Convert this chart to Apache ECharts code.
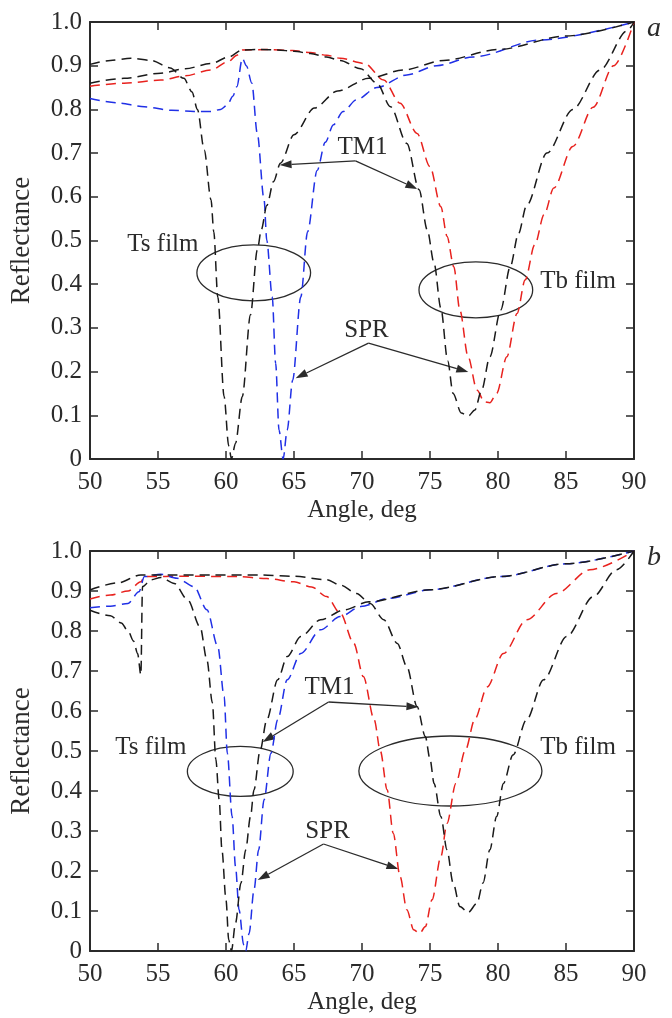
<!DOCTYPE html>
<html>
<head>
<meta charset="utf-8">
<script src="https://cdn.jsdelivr.net/npm/echarts@6/dist/echarts.min.js"></script>
<style>
  html, body { margin: 0; padding: 0; background: #fff; }
  #chart { width: 672px; height: 1018px; }
</style>
</head>
<body>
<div id="chart"></div>
<script>
// panel a: [angle, reflectance]
const aTsTM1 = [[50,0.903],[51.5,0.912],[53,0.917],[54.5,0.912],[55.9,0.895],[56.9,0.871],[57.5,0.84],[57.9,0.80],[58.4,0.707],[58.9,0.593],[59.1,0.52],[59.4,0.37],[59.86,0.143],[60.2,0.03],[60.4,0.0],[60.7,0.036],[61.2,0.143],[61.8,0.33],[62.3,0.478],[62.6,0.525],[63.0,0.58],[63.5,0.635],[64.0,0.677],[65.0,0.742],[66.5,0.803],[68.2,0.842],[70.5,0.871],[73,0.89],[76,0.912],[80,0.937],[85,0.968],[90,1.0]];
const aTsSPR = [[50,0.825],[52,0.815],[54,0.806],[56,0.798],[57.65,0.795],[58.9,0.795],[59.6,0.80],[60.1,0.81],[60.5,0.83],[60.8,0.852],[61.2,0.917],[61.5,0.90],[61.9,0.86],[62.3,0.745],[62.8,0.593],[63.0,0.50],[63.4,0.371],[63.65,0.219],[63.9,0.066],[64.2,0.0],[64.5,0.066],[64.9,0.18],[65.5,0.371],[66.0,0.52],[66.7,0.66],[67.3,0.725],[67.9,0.765],[68.6,0.795],[69.6,0.822],[71.1,0.85],[73.3,0.879],[75.5,0.90],[78.2,0.92],[83.1,0.959],[90,1.0]];
const aTbTM1 = [[50,0.86],[52.5,0.871],[55.2,0.883],[57,0.893],[58.9,0.905],[60.2,0.92],[61.2,0.936],[62.5,0.937],[63.8,0.936],[65,0.933],[66.2,0.928],[67.4,0.92],[68.4,0.912],[69.9,0.893],[71.1,0.86],[72.1,0.806],[73.3,0.722],[74.2,0.616],[74.8,0.524],[75.3,0.448],[75.8,0.345],[76.3,0.225],[76.7,0.15],[77.3,0.105],[77.8,0.098],[78.3,0.112],[78.8,0.158],[79.4,0.234],[80.2,0.341],[80.9,0.44],[81.5,0.515],[82.1,0.58],[83.6,0.7],[85.5,0.80],[87.5,0.89],[89.5,0.98],[90,1.0]];
const aTbSPR = [[50,0.853],[52.5,0.86],[55.2,0.867],[57,0.877],[58.9,0.89],[60.2,0.91],[60.8,0.924],[61.2,0.936],[63,0.937],[64.9,0.935],[66.2,0.93],[67.4,0.924],[68.4,0.917],[70.2,0.905],[71.6,0.867],[72.8,0.814],[74.05,0.745],[75.0,0.669],[75.8,0.577],[76.25,0.51],[76.75,0.44],[77.2,0.34],[77.8,0.234],[78.45,0.158],[79.0,0.131],[79.4,0.129],[79.9,0.15],[80.65,0.234],[81.4,0.333],[82.0,0.41],[82.7,0.49],[83.4,0.56],[84.1,0.62],[85.5,0.715],[87.0,0.805],[88.5,0.9],[90,1.0]];

// panel b
const bTsTM1 = [[50,0.852],[51.5,0.838],[52.3,0.82],[52.8,0.80],[53.2,0.775],[53.5,0.744],[53.74,0.69],[53.86,0.911],[54.5,0.928],[55.2,0.934],[56.2,0.919],[57.2,0.877],[58.1,0.81],[58.6,0.727],[59.0,0.62],[59.25,0.48],[59.5,0.378],[59.7,0.253],[60.0,0.128],[60.2,0.028],[60.4,0.0],[60.7,0.07],[61.1,0.17],[61.45,0.253],[61.8,0.336],[62.06,0.403],[62.5,0.50],[63.0,0.578],[63.8,0.678],[64.5,0.736],[65.5,0.786],[66.95,0.828],[68.7,0.853],[70.5,0.873],[75,0.903],[80.2,0.936],[85,0.968],[90,1.0]];
const bTsSPR = [[50,0.858],[51.5,0.862],[52.8,0.869],[53.6,0.898],[54.0,0.936],[55.2,0.942],[56.4,0.932],[57.65,0.911],[58.6,0.853],[59.4,0.761],[59.86,0.636],[60.1,0.494],[60.45,0.336],[60.7,0.211],[60.96,0.103],[61.3,0.015],[61.45,0.0],[61.7,0.044],[62.06,0.153],[62.4,0.253],[62.8,0.378],[63.3,0.494],[63.8,0.578],[64.5,0.678],[65.5,0.744],[66.95,0.803],[68.4,0.836],[69.9,0.861],[72,0.882],[75,0.903],[80.2,0.936],[85,0.968],[90,1.0]];
const bTbTM1 = [[50,0.9025],[52,0.92],[53.74,0.94],[56,0.94],[59,0.94],[62.55,0.94],[65,0.937],[67.4,0.928],[68.4,0.915],[69.6,0.894],[70.6,0.869],[71.6,0.828],[72.6,0.769],[73.3,0.711],[74.05,0.611],[74.66,0.536],[75.0,0.48],[75.3,0.419],[75.8,0.336],[76.25,0.253],[76.7,0.17],[77.2,0.111],[77.8,0.096],[78.45,0.119],[78.9,0.17],[79.4,0.253],[79.9,0.336],[80.4,0.419],[81.1,0.49],[82.1,0.578],[83.35,0.678],[85.05,0.786],[87.0,0.886],[88.7,0.953],[90,1.0]];
const bTbSPR = [[50,0.88],[51.5,0.89],[52.8,0.90],[53.74,0.923],[54,0.936],[57,0.937],[60.8,0.936],[63,0.931],[65,0.923],[66.3,0.91],[67.4,0.886],[68.4,0.845],[69.4,0.769],[70.1,0.686],[70.9,0.578],[71.35,0.50],[71.85,0.403],[72.3,0.294],[72.8,0.186],[73.3,0.103],[73.8,0.053],[74.24,0.044],[74.66,0.061],[75.15,0.128],[75.8,0.236],[76.25,0.319],[76.9,0.419],[77.6,0.502],[78.3,0.58],[79.2,0.66],[80.4,0.744],[82.1,0.828],[84.3,0.894],[86.75,0.953],[90,1.0]];

const xTicks = [50, 90, 5];
const yTicks = [0, 1, 0.1];

// annotations in data units: text [label, x, y], ellipse [cx, cy, rx, ry], arrow [x0, y0, x1(tip), y1]
const notesA = {
  texts: [['TM1', 70.04, 0.712], ['Ts film', 55.36, 0.49], ['SPR', 70.33, 0.295], ['Tb film', 85.89, 0.407]],
  ellipses: [[62.04, 0.426, 4.18, 0.064], [78.37, 0.387, 4.18, 0.064]],
  arrows: [[69.52, 0.682, 63.94, 0.673], [69.52, 0.682, 74.07, 0.618], [70.48, 0.265, 65.12, 0.185], [70.48, 0.265, 77.82, 0.199]]
};
const notesB = {
  texts: [['TM1', 67.61, 0.66], ['Ts film', 54.48, 0.51], ['SPR', 67.47, 0.30], ['Tb film', 85.89, 0.51]],
  ellipses: [[61.05, 0.449, 3.89, 0.0625], [76.5, 0.45, 6.73, 0.0875]],
  arrows: [[67.54, 0.6225, 62.7, 0.5225], [67.54, 0.6225, 74.15, 0.61], [67.17, 0.2675, 62.33, 0.1775], [67.17, 0.2675, 72.68, 0.205]]
};

const FONT = 'Liberation Serif';
const INK = '#2b2b2b';
const BLACK = '#1a1a1a', RED = '#e8221e', BLUE = '#2030e6';

const chart = echarts.init(document.getElementById('chart'));

const grids = [
  { left: 89, top: 22, width: 545, height: 437 },
  { left: 89, top: 551, width: 545, height: 400 }
];

function xAxes(gi) {
  const base = {
    gridIndex: gi, type: 'value', min: xTicks[0], max: xTicks[1], interval: xTicks[2],
    axisLine: { onZero: false, lineStyle: { color: INK, width: 2 } },
    axisTick: { inside: true, length: 8, lineStyle: { color: INK, width: 1.5 } },
    splitLine: { show: false }
  };
  return [
    Object.assign({}, base, {
      position: 'bottom',
      axisLabel: { fontFamily: FONT, fontSize: 25, color: INK, margin: 11 },
      name: 'Angle, deg', nameLocation: 'middle', nameGap: 39,
      nameTextStyle: { fontFamily: FONT, fontSize: 25, color: INK }
    }),
    Object.assign({}, base, { position: 'top', axisLabel: { show: false } })
  ];
}

function yAxes(gi) {
  const base = {
    gridIndex: gi, type: 'value', min: yTicks[0], max: yTicks[1], interval: yTicks[2],
    axisLine: { onZero: false, lineStyle: { color: INK, width: 2 } },
    axisTick: { inside: true, length: 8, lineStyle: { color: INK, width: 1.5 } },
    splitLine: { show: false }
  };
  return [
    Object.assign({}, base, {
      position: 'left',
      axisLabel: {
        fontFamily: FONT, fontSize: 25, color: INK, margin: 8,
        formatter: (v) => (v === 0 ? '0' : v.toFixed(1))
      },
      name: 'Reflectance', nameLocation: 'middle', nameGap: 55,
      nameTextStyle: { fontFamily: FONT, fontSize: 27, color: INK }
    }),
    Object.assign({}, base, { position: 'right', axisLabel: { show: false } })
  ];
}

function curve(name, data, color, axisIdx) {
  return {
    name, type: 'line', data,
    xAxisIndex: axisIdx, yAxisIndex: axisIdx,
    symbol: 'none', smooth: 0.3, smoothMonotone: 'x',
    lineStyle: { color, width: 1.5, type: [10, 6] },
    silent: true
  };
}

chart.setOption({
  animation: false,
  grid: grids,
  xAxis: xAxes(0).concat(xAxes(1)),
  yAxis: yAxes(0).concat(yAxes(1)),
  series: [
    curve('a Tb SPR', aTbSPR, RED, 0),
    curve('a Ts SPR', aTsSPR, BLUE, 0),
    curve('a Tb TM1', aTbTM1, BLACK, 0),
    curve('a Ts TM1', aTsTM1, BLACK, 0),
    curve('b Tb SPR', bTbSPR, RED, 2),
    curve('b Ts SPR', bTsSPR, BLUE, 2),
    curve('b Tb TM1', bTbTM1, BLACK, 2),
    curve('b Ts TM1', bTsTM1, BLACK, 2)
  ]
});

function buildNotes(gi, notes) {
  const px = (x, y) => chart.convertToPixel({ gridIndex: gi }, [x, y]);
  const out = [];
  notes.texts.forEach(([label, x, y]) => {
    const p = px(x, y);
    out.push({
      type: 'text', x: p[0], y: p[1], silent: true,
      style: { text: label, fontFamily: FONT, fontSize: 25, fill: INK, align: 'center', verticalAlign: 'middle' }
    });
  });
  notes.ellipses.forEach(([cx, cy, rx, ry]) => {
    const c = px(cx, cy);
    const e = px(cx + rx, cy + ry);
    out.push({
      type: 'ellipse', silent: true,
      shape: { cx: c[0], cy: c[1], rx: Math.abs(e[0] - c[0]), ry: Math.abs(c[1] - e[1]) },
      style: { fill: 'none', stroke: INK, lineWidth: 1.3 }
    });
  });
  notes.arrows.forEach(([x0, y0, x1, y1]) => {
    const a = px(x0, y0), b = px(x1, y1);
    const dx = b[0] - a[0], dy = b[1] - a[1];
    const len = Math.hypot(dx, dy);
    const ux = dx / len, uy = dy / len;
    const head = 12, half = 4;
    const bx = b[0] - ux * head, by = b[1] - uy * head;
    out.push({
      type: 'line', silent: true,
      shape: { x1: a[0], y1: a[1], x2: bx, y2: by },
      style: { stroke: INK, lineWidth: 1.3 }
    });
    out.push({
      type: 'polygon', silent: true,
      shape: { points: [[b[0], b[1]], [bx - uy * half, by + ux * half], [bx + uy * half, by - ux * half]] },
      style: { fill: INK }
    });
  });
  return out;
}

const panelLetters = [['a', 0, 90, 1.0], ['b', 1, 90, 1.0]].map(([t, gi, x, y]) => {
  const p = chart.convertToPixel({ gridIndex: gi }, [x, y]);
  return {
    type: 'text', x: p[0] + 13, y: p[1] + 7, silent: true,
    style: { text: t, fontFamily: FONT, fontStyle: 'italic', fontSize: 28, fill: INK, align: 'left', verticalAlign: 'middle' }
  };
});

chart.setOption({
  graphic: buildNotes(0, notesA).concat(buildNotes(1, notesB), panelLetters)
});

window.addEventListener('resize', () => {
  chart.resize();
});
</script>
</body>
</html>
